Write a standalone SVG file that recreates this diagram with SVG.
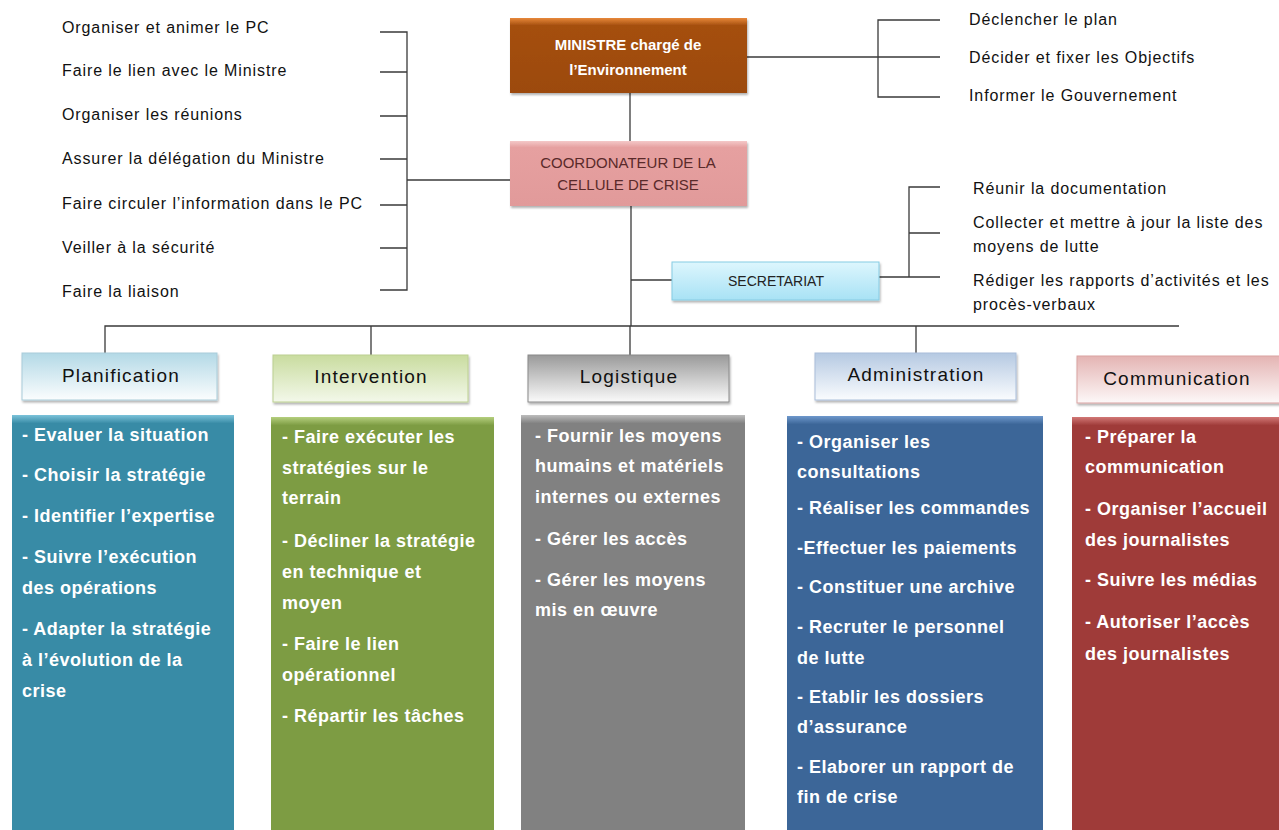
<svg xmlns="http://www.w3.org/2000/svg" width="1279" height="830" viewBox="0 0 1279 830">
<defs>
<style>
.ln{stroke:#3a3a3a;stroke-width:1.3;fill:none}
.lst{font-family:"Liberation Sans",Arial,sans-serif;font-size:16px;letter-spacing:0.9px;fill:#111}
.hd{font-family:"Liberation Sans",Arial,sans-serif;font-size:19px;letter-spacing:1.2px;fill:#111;text-anchor:middle}
.bx{font-family:"Liberation Sans",Arial,sans-serif;font-size:18px;letter-spacing:0.5px;font-weight:bold;fill:#fff}
.tt{font-family:"Liberation Sans",Arial,sans-serif;text-anchor:middle}
</style>
<linearGradient id="gMin" x1="0" y1="0" x2="0" y2="1"><stop offset="0" stop-color="#E8883A"/><stop offset="0.1" stop-color="#A54F0E"/><stop offset="1" stop-color="#9C4A0C"/></linearGradient>
<linearGradient id="gCoo" x1="0" y1="0" x2="0" y2="1"><stop offset="0" stop-color="#F4C8C8"/><stop offset="0.1" stop-color="#E6A0A0"/><stop offset="1" stop-color="#E19A9A"/></linearGradient>
<linearGradient id="gSec" x1="0" y1="0" x2="0" y2="1"><stop offset="0" stop-color="#DDF6FD"/><stop offset="1" stop-color="#A8E2F5"/></linearGradient>
<linearGradient id="hPla" x1="0" y1="0" x2="0" y2="1"><stop offset="0" stop-color="#B3D9E6"/><stop offset="1" stop-color="#FBFDFE"/></linearGradient>
<linearGradient id="hInt" x1="0" y1="0" x2="0" y2="1"><stop offset="0" stop-color="#C9DC9F"/><stop offset="1" stop-color="#F3F8EA"/></linearGradient>
<linearGradient id="hLog" x1="0" y1="0" x2="0" y2="1"><stop offset="0" stop-color="#9A9A9A"/><stop offset="1" stop-color="#FAFAFA"/></linearGradient>
<linearGradient id="hAdm" x1="0" y1="0" x2="0" y2="1"><stop offset="0" stop-color="#B5C9E2"/><stop offset="1" stop-color="#FAFCFE"/></linearGradient>
<linearGradient id="hCom" x1="0" y1="0" x2="0" y2="1"><stop offset="0" stop-color="#E4B4B3"/><stop offset="1" stop-color="#FDF8F8"/></linearGradient>
<linearGradient id="bPla" x1="0" y1="0" x2="0" y2="1"><stop offset="0" stop-color="#7CC3DA"/><stop offset="0.02" stop-color="#388BA6"/><stop offset="1" stop-color="#388BA6"/></linearGradient>
<linearGradient id="bInt" x1="0" y1="0" x2="0" y2="1"><stop offset="0" stop-color="#B5CF7E"/><stop offset="0.02" stop-color="#7D9C43"/><stop offset="1" stop-color="#7D9C43"/></linearGradient>
<linearGradient id="bLog" x1="0" y1="0" x2="0" y2="1"><stop offset="0" stop-color="#BDBDBD"/><stop offset="0.02" stop-color="#818181"/><stop offset="1" stop-color="#818181"/></linearGradient>
<linearGradient id="bAdm" x1="0" y1="0" x2="0" y2="1"><stop offset="0" stop-color="#6E98CC"/><stop offset="0.02" stop-color="#3C6698"/><stop offset="1" stop-color="#3C6698"/></linearGradient>
<linearGradient id="bCom" x1="0" y1="0" x2="0" y2="1"><stop offset="0" stop-color="#D27876"/><stop offset="0.02" stop-color="#9F3B39"/><stop offset="1" stop-color="#9F3B39"/></linearGradient>
<filter id="sh" x="-5%" y="-5%" width="112%" height="125%"><feDropShadow dx="1" dy="2" stdDeviation="1.2" flood-color="#000" flood-opacity="0.3"/></filter>
</defs>
<rect width="1279" height="830" fill="#fff"/>

<g id="connectors">
<line class="ln" x1="630" y1="93" x2="630" y2="141"/>
<line class="ln" x1="747" y1="57" x2="878" y2="57"/>
<path class="ln" d="M940 20H878V97H940M878 57H940"/>
<line class="ln" x1="510" y1="180" x2="407" y2="180"/>
<path class="ln" d="M380 32H407V290H380M380 72H407M380 116H407M380 159H407M380 205H407M380 248H407"/>
<line class="ln" x1="631" y1="206" x2="631" y2="326"/>
<line class="ln" x1="631" y1="280" x2="672" y2="280"/>
<path class="ln" d="M879 277H940M909 277V187H940M909 233H940"/>
<path class="ln" d="M1179 326H105V353M371 326V355M630 326V355M916 326V353"/>
</g>

<g id="ministre">
<rect x="510" y="18" width="237" height="75" fill="url(#gMin)" filter="url(#sh)"/>
<text class="tt" x="628" y="50" font-size="15" font-weight="bold" fill="#fff">MINISTRE chargé de</text>
<text class="tt" x="628" y="75" font-size="15" font-weight="bold" fill="#fff">l’Environnement</text>
</g>
<g id="ministre-roles" class="lst">
<text x="969" y="25">Déclencher le plan</text>
<text x="969" y="63">Décider et fixer les Objectifs</text>
<text x="969" y="101">Informer le Gouvernement</text>
</g>

<g id="coordonateur">
<rect x="510" y="141" width="237" height="65" fill="url(#gCoo)" filter="url(#sh)"/>
<text class="tt" x="628" y="168" font-size="15" fill="#5A2A2A">COORDONATEUR DE LA</text>
<text class="tt" x="628" y="190" font-size="15" fill="#5A2A2A">CELLULE DE CRISE</text>
</g>
<g id="coordonateur-roles" class="lst">
<text x="62" y="33">Organiser et animer le PC</text>
<text x="62" y="76">Faire le lien avec le Ministre</text>
<text x="62" y="120">Organiser les réunions</text>
<text x="62" y="164">Assurer la délégation du Ministre</text>
<text x="62" y="209">Faire circuler l’information dans le PC</text>
<text x="62" y="253">Veiller à la sécurité</text>
<text x="62" y="297">Faire la liaison</text>
</g>

<g id="secretariat">
<rect x="672" y="262" width="207" height="38" fill="url(#gSec)" stroke="#86CBE3" stroke-width="1" filter="url(#sh)"/>
<text class="tt" x="776" y="286" font-size="14" fill="#222">SECRETARIAT</text>
</g>
<g id="secretariat-roles" class="lst">
<text x="973" y="194">Réunir la documentation</text>
<text x="973" y="228">Collecter et mettre à jour la liste des</text>
<text x="973" y="252">moyens de lutte</text>
<text x="973" y="286">Rédiger les rapports d’activités et les</text>
<text x="973" y="310">procès-verbaux</text>
</g>

<g id="planification">
<rect x="22" y="353" width="195" height="47" fill="url(#hPla)" stroke="#A9CCD9" filter="url(#sh)"/>
<text class="hd" x="121" y="382">Planification</text>
<rect x="12" y="415" width="222" height="420" fill="url(#bPla)"/>
<g class="bx">
<text x="22" y="441">- Evaluer la situation</text>
<text x="22" y="481">- Choisir la stratégie</text>
<text x="22" y="522">- Identifier l’expertise</text>
<text x="22" y="563">- Suivre l’exécution</text>
<text x="22" y="594">des opérations</text>
<text x="22" y="635">- Adapter la stratégie</text>
<text x="22" y="666">à l’évolution de la</text>
<text x="22" y="697">crise</text>
</g>
</g>

<g id="intervention">
<rect x="273" y="355" width="195" height="47" fill="url(#hInt)" stroke="#BCD091" filter="url(#sh)"/>
<text class="hd" x="371" y="383">Intervention</text>
<rect x="271" y="417" width="223" height="418" fill="url(#bInt)"/>
<g class="bx">
<text x="282" y="443">- Faire exécuter les</text>
<text x="282" y="474">stratégies sur le</text>
<text x="282" y="504">terrain</text>
<text x="282" y="547">- Décliner la stratégie</text>
<text x="282" y="578">en technique et</text>
<text x="282" y="609">moyen</text>
<text x="282" y="650">- Faire le lien</text>
<text x="282" y="681">opérationnel</text>
<text x="282" y="722">- Répartir les tâches</text>
</g>
</g>

<g id="logistique">
<rect x="528" y="355" width="201" height="47" fill="url(#hLog)" stroke="#8A8A8A" filter="url(#sh)"/>
<text class="hd" x="629" y="383">Logistique</text>
<rect x="521" y="415" width="224" height="420" fill="url(#bLog)"/>
<g class="bx">
<text x="535" y="442">- Fournir les moyens</text>
<text x="535" y="472">humains et matériels</text>
<text x="535" y="503">internes ou externes</text>
<text x="535" y="545">- Gérer les accès</text>
<text x="535" y="586">- Gérer les moyens</text>
<text x="535" y="616">mis en œuvre</text>
</g>
</g>

<g id="administration">
<rect x="815" y="353" width="201" height="47" fill="url(#hAdm)" stroke="#A9BEDA" filter="url(#sh)"/>
<text class="hd" x="916" y="381">Administration</text>
<rect x="787" y="416" width="256" height="419" fill="url(#bAdm)"/>
<g class="bx">
<text x="797" y="448">- Organiser les</text>
<text x="797" y="478">consultations</text>
<text x="797" y="514">- Réaliser les commandes</text>
<text x="797" y="554">-Effectuer les paiements</text>
<text x="797" y="593">- Constituer une archive</text>
<text x="797" y="633">- Recruter le personnel</text>
<text x="797" y="664">de lutte</text>
<text x="797" y="703">- Etablir les dossiers</text>
<text x="797" y="733">d’assurance</text>
<text x="797" y="773">- Elaborer un rapport de</text>
<text x="797" y="803">fin de crise</text>
</g>
</g>

<g id="communication">
<rect x="1077" y="356" width="203" height="47" fill="url(#hCom)" stroke="#D9A3A2" filter="url(#sh)"/>
<text class="hd" x="1177" y="385">Communication</text>
<rect x="1072" y="417" width="210" height="418" fill="url(#bCom)"/>
<g class="bx">
<text x="1085" y="443">- Préparer la</text>
<text x="1085" y="473">communication</text>
<text x="1085" y="515">- Organiser l’accueil</text>
<text x="1085" y="546">des journalistes</text>
<text x="1085" y="586">- Suivre les médias</text>
<text x="1085" y="628">- Autoriser l’accès</text>
<text x="1085" y="660">des journalistes</text>
</g>
</g>
</svg>
